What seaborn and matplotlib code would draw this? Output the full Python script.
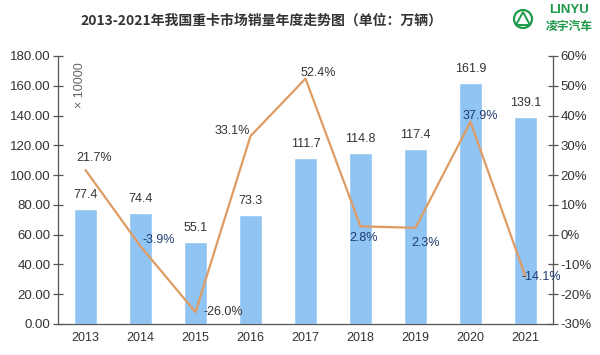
import matplotlib
matplotlib.use("Agg")
import matplotlib.pyplot as plt
import matplotlib.patches as mpatches
import numpy as np
import pandas as pd
import seaborn as sns

# data
years = ["2013", "2014", "2015", "2016", "2017", "2018", "2019", "2020", "2021"]
sales = [77.4, 74.4, 55.1, 73.3, 111.7, 114.8, 117.4, 161.9, 139.1]
growth = [21.7, -3.9, -26.0, 33.1, 52.4, 2.8, 2.3, 37.9, -14.1]

# label placement (screen pixels from the point, down is positive) and colours
growth_offsets = [(9, -12), (18, -6), (28, 0), (-18, -5), (13, -6),
                  (3, 12), (10, 15), (10, -6), (16, 0)]
growth_colors = ["#333333", "#1f3d6e", "#333333", "#333333", "#333333",
                 "#1f3d6e", "#1f3d6e", "#1f3d6e", "#1f3d6e"]

BAR_COLOR = "#90c4f2"
LINE_COLOR = "#de9c64"
AXIS_COLOR = "#555555"
TEXT_COLOR = "#333333"
CJK = ["Noto Sans CJK SC", "DejaVu Sans"]


def main():
    sns.set_style("white")
    plt.rcParams["font.family"] = ["Liberation Sans", "Noto Sans CJK SC", "DejaVu Sans"]

    df = pd.DataFrame({"year": years, "sales": sales, "growth": growth})
    df["pos"] = np.arange(len(df))

    fig = plt.figure(figsize=(6, 3.55), dpi=100)
    ax = fig.add_axes([58 / 600, 1 - 324 / 355, 495 / 600, 268 / 355])

    sns.barplot(data=df, x="year", y="sales", color=BAR_COLOR, width=0.42,
                saturation=1, ax=ax)
    ax.set_xlim(-0.5, len(years) - 0.5)
    ax.set_ylim(0, 180)
    ax.set_yticks(np.arange(0, 181, 20))
    ax.set_yticklabels([f"{v:.2f}" for v in np.arange(0, 181, 20)])
    ax.set_xlabel("")
    ax.set_ylabel("")

    for i, v in enumerate(sales):
        ax.annotate(f"{v:.1f}", (i, v), xytext=(0, 8), textcoords="offset pixels",
                    ha="center", va="bottom", fontsize=9, color=TEXT_COLOR)

    ax2 = ax.twinx()
    sns.lineplot(data=df, x="pos", y="growth", color=LINE_COLOR, linewidth=1.6,
                 ax=ax2)
    ax2.set_ylim(-30, 60)
    ax2.set_yticks(np.arange(-30, 61, 10))
    ax2.set_yticklabels([f"{v}%" for v in range(-30, 61, 10)])
    ax2.set_xlabel("")
    ax2.set_ylabel("")
    ax2.set_xlim(-0.5, len(years) - 0.5)

    for i, v in enumerate(growth):
        dx, dy = growth_offsets[i]
        ax2.annotate(f"{v:.1f}%", (i, v), xytext=(dx, -dy), textcoords="offset pixels",
                     ha="center", va="center", fontsize=9, color=growth_colors[i])

    for a in (ax, ax2):
        for side in ("left", "right", "bottom"):
            a.spines[side].set_color(AXIS_COLOR)
            a.spines[side].set_linewidth(0.9)
        a.spines["top"].set_visible(False)

    ax.spines["right"].set_visible(False)
    ax2.spines["left"].set_visible(False)
    ax2.spines["bottom"].set_visible(False)

    ax.tick_params(axis="y", direction="inout", length=7, width=0.9,
                   colors=AXIS_COLOR, labelcolor=TEXT_COLOR, labelsize=9.5, pad=2)
    ax2.tick_params(axis="y", direction="inout", length=7, width=0.9,
                    colors=AXIS_COLOR, labelcolor=TEXT_COLOR, labelsize=9.5, pad=2)
    ax.tick_params(axis="x", which="major", length=0, labelsize=9,
                   labelcolor=TEXT_COLOR, pad=6)
    ax.set_xticks(np.arange(0.5, len(years) - 1, 1), minor=True)
    ax.tick_params(axis="x", which="minor", direction="in", length=4, width=0.9,
                   colors=AXIS_COLOR)

    ax.text(0.044, 0.89, "× 10000", transform=ax.transAxes, rotation=90,
            ha="center", va="center", fontsize=9, color="#666666")

    fig.text(0.435, 1 - 21 / 355, "2013-2021年我国重卡市场销量年度走势图（单位：万辆）",
             ha="center", va="center", fontsize=10, fontweight="bold",
             color="#333333", family=CJK)

    # logo
    green = "#1e9a4a"
    fig.patches.append(mpatches.Ellipse((523 / 600, 1 - 19 / 355), 18 / 600, 18 / 355,
                                        transform=fig.transFigure, fill=False,
                                        edgecolor=green, linewidth=1.6))
    fig.patches.append(mpatches.Polygon([[516 / 600, 1 - 25 / 355],
                                         [530 / 600, 1 - 25 / 355],
                                         [523 / 600, 1 - 12 / 355]],
                                        closed=True, transform=fig.transFigure,
                                        fill=False, edgecolor=green, linewidth=1.4))
    fig.text(569 / 600, 1 - 10 / 355, "LINYU", ha="center", va="center",
             fontsize=9.5, fontweight="bold", color=green)
    fig.text(569 / 600, 1 - 26 / 355, "凌宇汽车", ha="center", va="center",
             fontsize=8.5, fontweight="bold", color=green, family=CJK)

    fig.savefig("out.png", dpi=100)
    plt.close(fig)


if __name__ == "__main__":
    main()
